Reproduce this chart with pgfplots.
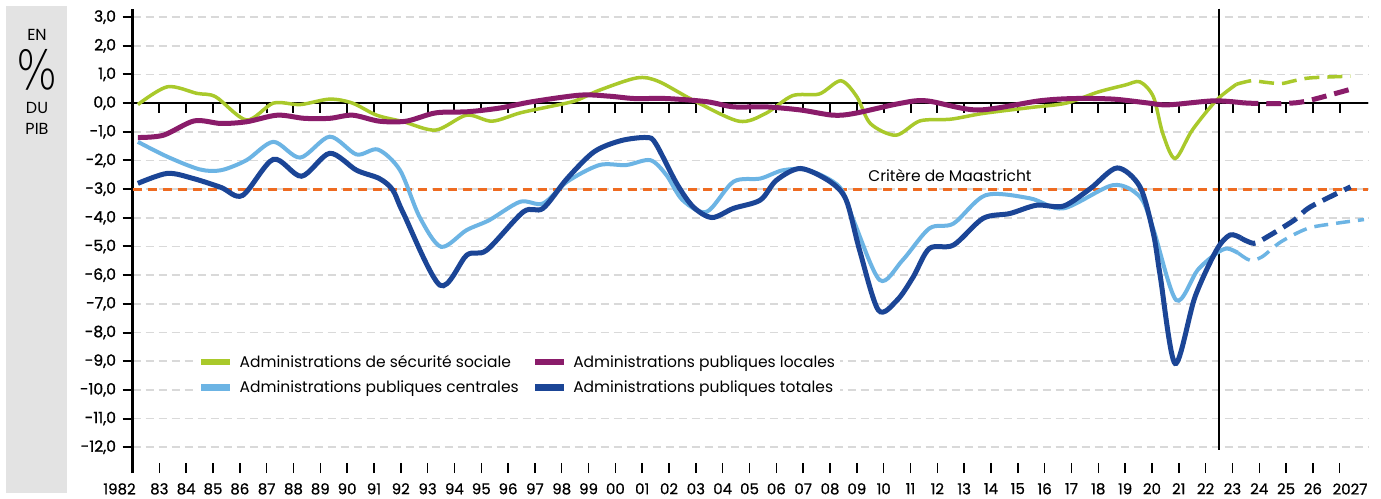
\documentclass[border=0pt]{standalone}
\usepackage{pgfplots}
\pgfplotsset{compat=1.18}
\usepackage{fontspec}
\setmainfont{Poppins}
\newfontfamily\semib{Poppins}[FakeBold=1.2]
\newfontfamily\medf{Poppins}[FakeBold=0.6]
\newfontfamily\thinfont{DejaVu Sans ExtraLight}

\definecolor{secu}{HTML}{A9C92B}
\definecolor{locales}{HTML}{8A1C6A}
\definecolor{centrales}{HTML}{6CB4E4}
\definecolor{totales}{HTML}{1B4596}
\definecolor{maastricht}{HTML}{EE6B21}
\definecolor{panel}{HTML}{E3E3E3}
\definecolor{gridgrey}{HTML}{D9D9D9}
\newcommand\fs[1]{\fontsize{#1}{#1}\selectfont}

\begin{document}
\begin{tikzpicture}
\path[use as bounding box, fill=white] (0pt,0pt) rectangle (1381pt,-498pt);
\fill[panel] (6pt,-6pt) rectangle (67pt,-493pt);
\node[font=\fs{16}] at (37pt,-35pt) {EN};
\node[inner sep=0pt] at (37pt,-70pt) {\scalebox{0.8}[1]{\fs{54}\thinfont\%}};
\node[font=\fs{16}, inner sep=1pt] at (37pt,-108pt) {DU};
\node[font=\fs{16}, inner sep=1pt] at (37pt,-129pt) {PIB};

\begin{axis}[
    anchor=south west, at={(132.5pt,-473pt)},
    scale only axis, width=1235.5pt, height=464.5pt,
    xmin=1982, xmax=2028.05,
    ymin=-12.9, ymax=3.3,
    axis x line*=bottom, axis y line*=left,
    axis line style={-, line width=2.5pt, black},
    x axis line style={draw=none},
    xtick={1983,...,2027},
    xticklabels={83,84,85,86,87,88,89,90,91,92,93,94,95,96,97,98,99,00,01,02,03,04,05,06,07,08,09,10,11,12,13,14,15,16,17,18,19,20,21,22,23,24,25,26,{}},
    ytick={-12,...,3},
    xtick align=inside, ytick align=outside,
    major tick length=10pt,
    xtick style={line width=1.5pt, black},
    ytick style={line width=2pt, black},
    ymajorgrids,
    grid style={gridgrey, line width=1.8pt, dash pattern=on 8pt off 5pt},
    xticklabel style={font=\fs{15}\medf, inner sep=1pt, yshift=-9pt},
    yticklabel style={font=\fs{15.5}\semib, xshift=-3pt,
        /pgf/number format/.cd, fixed, fixed zerofill, precision=1, use comma, assume math mode=true},
    legend columns=2,
    legend cell align=left,
    legend style={at={(0.0506,0.2648)}, anchor=north west, draw=none, fill=white,
        font=\fs{15.5}, row sep=8pt, inner sep=3pt,
        /tikz/every odd column/.append style={column sep=4pt},
        /tikz/every even column/.append style={column sep=11pt}},
    legend image code/.code={\draw[#1, line width=6.5pt] (0pt,0pt) -- (29pt,0pt);},
]
% reference lines
\draw[maastricht, line width=2.8pt, dash pattern=on 9pt off 6pt] (axis cs:1982,-3) -- (axis cs:2028.05,-3);
\draw[black, line width=2.5pt] (axis cs:1982,0) -- (axis cs:2028.1,0);
\pgfplotsinvokeforeach{1983,...,2027}{\draw[black, line width=2pt] (axis cs:#1,0) -- (axis cs:#1,-0.35);}
\draw[black, line width=2pt] (axis cs:2022.5,3.3) -- (axis cs:2022.5,-12.1);
\node[font=\fs{15.5}] at (axis cs:2012.47,-2.51) {Critère de Maastricht};

% sécurité sociale
\addplot[secu, line width=3.5pt, smooth] coordinates {
(1982.2,-0.05) (1983.3,0.57) (1984.4,0.34) (1985.1,0.22) (1986.25,-0.59) (1987.25,0.0)
(1988.25,-0.05) (1989.35,0.14) (1990.2,0.0) (1991.1,-0.42) (1992.1,-0.65) (1993.3,-0.94)
(1994.45,-0.42) (1995.4,-0.63) (1996.45,-0.34) (1997.5,-0.13) (1998.5,0.08) (1999.4,0.45)
(2000.8,0.88) (2001.6,0.76) (2002.9,0.10) (2004.6,-0.63) (2005.6,-0.36) (2006.6,0.26)
(2007.6,0.32) (2008.4,0.78) (2009.0,0.22) (2009.5,-0.71) (2010.45,-1.12) (2011.35,-0.62)
(2012.5,-0.56) (2013.7,-0.36) (2015.5,-0.15) (2016.8,0.0) (2018.0,0.39) (2019.0,0.63)
(2019.55,0.74) (2020.05,0.22) (2020.4,-1.06) (2020.86,-1.93) (2021.5,-0.94) (2022.4,0.10)
(2023.15,0.66)
};
\addlegendentry{Administrations de sécurité sociale}
% locales
\addplot[locales, line width=5pt, smooth] coordinates {
(1982.2,-1.2) (1983.15,-1.12) (1984.3,-0.62) (1985.3,-0.71) (1986.25,-0.65) (1987.4,-0.42)
(1988.4,-0.53) (1989.35,-0.53) (1990.2,-0.42) (1991.2,-0.63) (1992.2,-0.63) (1993.3,-0.34)
(1994.5,-0.30) (1995.7,-0.17) (1996.9,0.05) (1998.7,0.28) (1999.8,0.24) (2000.7,0.16)
(2001.9,0.16) (2003.4,0.05) (2004.4,-0.13) (2005.6,-0.13) (2006.9,-0.24) (2008.1,-0.42)
(2008.9,-0.36) (2010.6,-0.01) (2011.6,0.08) (2013.5,-0.24) (2015.8,0.08) (2017.1,0.16)
(2018.55,0.14) (2019.8,0.01) (2020.6,-0.06) (2022.3,0.08) (2023.4,0.01)
};
\addlegendentry{Administrations publiques locales}
% centrales
\addplot[centrales, line width=4pt, smooth] coordinates {
(1982.2,-1.35) (1983.3,-1.87) (1984.5,-2.31) (1985.3,-2.34) (1986.25,-1.99) (1987.25,-1.35)
(1988.25,-1.9) (1989.35,-1.17) (1990.35,-1.79) (1991.15,-1.62) (1991.97,-2.34) (1992.7,-3.97)
(1993.5,-5.01) (1994.45,-4.43) (1995.3,-4.08) (1996.45,-3.44) (1997.3,-3.50) (1998.2,-2.74)
(1999.4,-2.16) (2000.4,-2.16) (2001.3,-1.99) (2001.9,-2.51) (2002.5,-3.38) (2003.4,-3.79)
(2004.4,-2.74) (2005.4,-2.63) (2006.25,-2.34) (2007.2,-2.34) (2008.35,-2.92) (2008.87,-4.08)
(2009.85,-6.17) (2010.7,-5.48) (2011.7,-4.37) (2012.6,-4.20) (2013.8,-3.21) (2015.45,-3.32)
(2016.7,-3.67) (2018.55,-2.86) (2019.55,-3.27) (2020.05,-4.4) (2020.9,-6.87) (2021.7,-5.82)
(2022.4,-5.24) (2022.8,-5.07) (2023.2,-5.22)
};
\addlegendentry{Administrations publiques centrales}
% totales
\addplot[totales, line width=5pt, smooth] coordinates {
(1982.2,-2.8) (1983.3,-2.45) (1984.27,-2.63) (1985.3,-2.94) (1986.1,-3.22) (1987.25,-1.96)
(1988.3,-2.55) (1989.35,-1.75) (1990.35,-2.34) (1991.2,-2.63) (1991.7,-3.03) (1992.1,-3.85)
(1993.46,-6.35) (1994.46,-5.30) (1995.2,-5.13) (1996.57,-3.79) (1997.3,-3.67) (1998.2,-2.63)
(1999.2,-1.70) (2000.2,-1.31) (2001.16,-1.20) (2001.5,-1.41) (2002.28,-2.80) (2002.9,-3.62)
(2003.6,-3.99) (2004.4,-3.67) (2005.4,-3.38) (2006.0,-2.69) (2006.9,-2.28) (2008.0,-2.74)
(2008.6,-3.38) (2009.1,-5.13) (2009.8,-7.22) (2010.5,-6.87) (2011.1,-6.06) (2011.7,-5.07)
(2012.6,-4.95) (2013.7,-4.02) (2014.7,-3.85) (2015.7,-3.56) (2016.7,-3.59) (2017.7,-2.98)
(2018.7,-2.26) (2019.55,-2.92) (2020.05,-4.55) (2020.3,-6.0) (2020.86,-9.08) (2021.6,-6.76)
(2022.4,-5.13) (2022.9,-4.6) (2023.3,-4.7)
};
\addlegendentry{Administrations publiques totales}

% prévisions
\addplot[secu, line width=3.5pt, smooth, dash pattern=on 15pt off 8pt, forget plot] coordinates {
(2023.15,0.66) (2023.7,0.78) (2024.2,0.73) (2024.8,0.68) (2025.3,0.78) (2025.9,0.88) (2027.4,0.94)
};
\addplot[locales, line width=5pt, smooth, dash pattern=on 15pt off 8pt, forget plot] coordinates {
(2023.4,0.01) (2023.9,-0.01) (2025.0,-0.01) (2025.8,0.08) (2027.5,0.51)
};
\addplot[centrales, line width=3.5pt, smooth, dash pattern=on 14pt off 8pt, forget plot] coordinates {
(2023.2,-5.22) (2023.65,-5.48) (2024.1,-5.36) (2024.8,-4.84) (2025.8,-4.37) (2026.8,-4.2) (2027.9,-4.06)
};
\addplot[totales, line width=5pt, smooth, dash pattern=on 16pt off 8pt, forget plot] coordinates {
(2023.3,-4.7) (2023.8,-4.89) (2024.3,-4.66) (2025.3,-4.08) (2025.9,-3.62) (2027.4,-2.92)
};
\end{axis}
\node[font=\fs{15}\medf, inner sep=1pt] at (119.5pt,-489pt) {1982};
\node[font=\fs{15}\medf, inner sep=1pt] at (1350pt,-489pt) {2027};
\end{tikzpicture}
\end{document}
